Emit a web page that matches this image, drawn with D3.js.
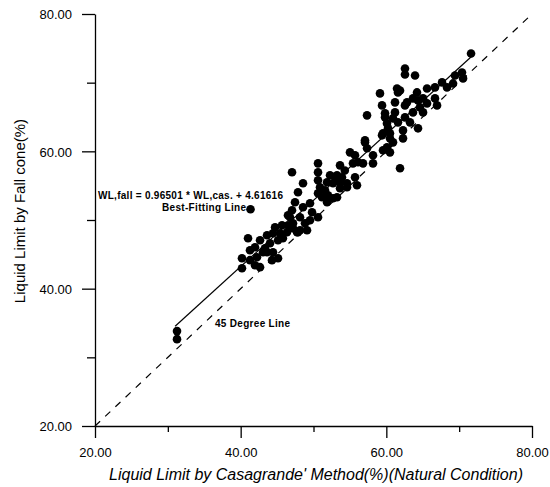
<!DOCTYPE html>
<html>
<head>
<meta charset="utf-8">
<script src="https://cdn.jsdelivr.net/npm/d3@7"></script>
<style>
body { margin: 0; background: #fff; font-family: "Liberation Sans", Arial, sans-serif; }
svg text { fill: #000; }
</style>
</head>
<body>
<div id="chart"></div>
<script>

// casagrande liquid limit (x) vs fall cone liquid limit (y)
var casagrande = [31.26, 31.26, 40.18, 40.18, 41.28, 41.28, 41.01, 41.97, 41.97, 42.24,
  42.66, 42.66, 43.07, 43.34, 43.62, 43.62, 44.03, 44.30, 44.44, 44.72,
  44.44, 45.13, 45.40, 45.13, 45.68, 46.50, 47.05, 46.50, 47.19, 47.74,
  46.36, 46.77, 47.19, 47.87, 48.15, 48.83, 48.15, 49.11, 41.35, 47.46,
  48.56, 49.52, 49.80, 50.62, 49.52, 47.05, 48.56, 47.87, 50.62, 50.62,
  50.62, 50.62, 50.89, 51.58, 51.86, 51.99, 51.17, 51.86, 52.68, 52.95,
  53.64, 53.23, 53.91, 53.64, 54.60, 53.64, 53.23, 54.60, 52.68, 55.70,
  55.97, 55.01, 55.70, 56.11, 55.42, 56.80, 58.17, 58.17, 57.07, 57.35,
  57.35, 59.82, 60.09, 60.92, 59.54, 60.50, 60.92, 60.09, 59.54, 60.50,
  61.88, 59.13, 59.41, 61.19, 61.47, 61.60, 62.56, 62.56, 63.94, 64.21,
  65.59, 63.66, 65.04, 66.68, 65.59, 64.62, 62.56, 61.19, 63.66, 59.82,
  62.56, 65.04, 61.60, 63.25, 60.23, 62.29, 64.35, 59.41, 62.29, 66.96,
  67.65, 68.33, 66.68, 69.43, 70.39, 70.53, 69.16, 71.63, 62.84, 57.07,
  60.50, 61.88, 64.35, 45.80, 52.27, 54.30];

var fallCone = [33.82, 32.65, 44.44, 42.98, 44.15, 45.60, 47.35, 46.04, 43.42, 44.58,
  47.05, 43.13, 45.31, 45.89, 47.78, 45.31, 46.62, 44.15, 45.31, 48.95,
  48.07, 47.05, 48.07, 44.44, 49.24, 50.69, 51.42, 49.24, 48.80, 48.22,
  48.22, 50.40, 49.53, 48.22, 50.40, 49.53, 48.51, 48.51, 51.56, 52.58,
  51.85, 52.44, 51.13, 50.40, 49.96, 56.95, 55.35, 54.04, 58.25, 56.95,
  55.78, 53.89, 54.76, 54.33, 55.49, 53.60, 53.31, 52.58, 53.16, 56.22,
  57.96, 56.51, 56.22, 55.49, 55.35, 54.62, 53.31, 54.76, 55.35, 56.22,
  55.05, 59.85, 59.42, 58.40, 58.25, 58.25, 58.25, 59.42, 61.31, 60.44,
  65.24, 65.53, 64.07, 64.80, 62.62, 62.62, 61.31, 60.58, 60.15, 59.85,
  57.53, 68.44, 66.69, 67.13, 69.16, 68.58, 72.07, 71.20, 71.05, 68.58,
  69.16, 67.71, 67.71, 67.71, 66.98, 66.40, 66.69, 65.67, 65.67, 64.95,
  64.95, 65.67, 64.22, 64.22, 63.35, 63.05, 63.35, 62.33, 61.89, 66.69,
  70.04, 69.31, 69.31, 71.05, 71.49, 70.62, 69.89, 74.25, 67.13, 61.60,
  61.89, 68.87, 67.42, 47.35, 56.51, 57.20];

var majorTicks = [20, 40, 60, 80];
var minorTicks = [30, 50, 70];

// regression from the paper
var slope = 0.96501, intercept = 4.61616;
var fitRange = [31, 72];
var diagRange = [20, 80];

var width = 550, height = 487;

var svg = d3.select('#chart').append('svg')
  .attr('width', width)
  .attr('height', height);

var x = d3.scaleLinear().domain([20, 80]).range([95, 532]);
var y = d3.scaleLinear().domain([20, 80]).range([426, 14]);

var fmt = d3.format('.2f');

// x axis
var xAxis = svg.append('g')
  .attr('transform', 'translate(0,' + y(20) + ')')
  .call(d3.axisBottom(x).tickValues(majorTicks).tickSize(12).tickSizeOuter(0).tickFormat(fmt));
xAxis.selectAll('text')
  .attr('dy', 0).attr('y', 31)
  .style('font-size', '13px').style('font-family', '"Liberation Sans", Arial, sans-serif');

svg.append('g')
  .attr('transform', 'translate(0,' + y(20) + ')')
  .call(d3.axisBottom(x).tickValues(minorTicks).tickSize(6).tickFormat(''))
  .select('.domain').remove();

// y axis
var yAxis = svg.append('g')
  .attr('transform', 'translate(' + x(20) + ',0)')
  .call(d3.axisLeft(y).tickValues(majorTicks).tickSize(13).tickSizeOuter(0).tickFormat(fmt));
yAxis.selectAll('text')
  .attr('x', -23).attr('dy', '0.36em')
  .style('font-size', '13px').style('font-family', '"Liberation Sans", Arial, sans-serif');

svg.append('g')
  .attr('transform', 'translate(' + x(20) + ',0)')
  .call(d3.axisLeft(y).tickValues(minorTicks).tickSize(8).tickFormat(''))
  .select('.domain').remove();

svg.selectAll('.domain, .tick line')
  .attr('stroke', '#000')
  .attr('stroke-width', 1.3);

// 45 degree line
svg.append('line')
  .attr('x1', x(diagRange[0])).attr('y1', y(diagRange[0]))
  .attr('x2', x(diagRange[1])).attr('y2', y(diagRange[1]))
  .attr('stroke', '#000')
  .attr('stroke-width', 1.2)
  .attr('stroke-dasharray', '7,7');

// best fitting line
svg.append('line')
  .attr('x1', x(fitRange[0])).attr('y1', y(slope * fitRange[0] + intercept))
  .attr('x2', x(fitRange[1])).attr('y2', y(slope * fitRange[1] + intercept))
  .attr('stroke', '#000')
  .attr('stroke-width', 1.2);

// points
svg.append('g').selectAll('circle')
  .data(casagrande)
  .enter()
  .append('circle')
  .attr('cx', function(d) { return x(d); })
  .attr('cy', function(d, i) { return y(fallCone[i]); })
  .attr('r', 4.3)
  .attr('fill', '#000');

// annotations
svg.append('text')
  .attr('x', 98).attr('y', 199)
  .style('font-size', '10px').style('font-weight', 'bold')
  .attr('textLength', 185)
  .text('WL,fall = 0.96501 * WL,cas. + 4.61616');

svg.append('text')
  .attr('x', 162).attr('y', 211)
  .style('font-size', '10px').style('font-weight', 'bold')
  .attr('textLength', 84)
  .text('Best-Fitting Line');

svg.append('text')
  .attr('x', 215).attr('y', 327)
  .style('font-size', '10px').style('font-weight', 'bold')
  .attr('textLength', 75)
  .text('45 Degree Line');

// axis titles
svg.append('text')
  .attr('x', 316).attr('y', 480)
  .attr('text-anchor', 'middle')
  .style('font-size', '16px').style('font-style', 'italic')
  .text("Liquid Limit by Casagrande' Method(%)(Natural Condition)");

svg.append('text')
  .attr('transform', 'translate(25,211) rotate(-90)')
  .attr('text-anchor', 'middle')
  .style('font-size', '15px')
  .text('Liquid Limit by Fall cone(%)');

</script>
</body>
</html>
